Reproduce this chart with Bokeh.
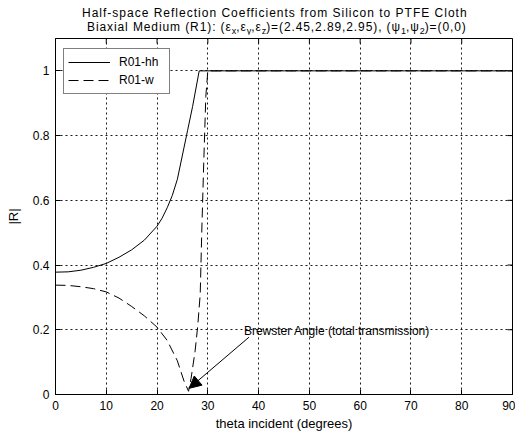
import math
from bokeh.plotting import figure
from bokeh.models import (Range1d, FixedTicker, Arrow, NormalHead, Label, Div, Legend)
from bokeh.layouts import column
from bokeh.embed import file_html
from bokeh.resources import INLINE

# ---- data ----
theta_hh = [0, 2.5, 5, 7.5, 10, 12.5, 15, 17.5, 20, 21, 22, 23, 24, 25, 26, 27, 28.3, 30, 40, 50, 60, 70, 80, 90]
R_hh = [0.378, 0.379, 0.384, 0.393, 0.405, 0.424, 0.447, 0.477, 0.52, 0.545, 0.577, 0.615, 0.665, 0.74, 0.815, 0.89, 1.0,
        1.0, 1.0, 1.0, 1.0, 1.0, 1.0, 1.0]

theta_vv = [0, 2.5, 5, 7.5, 10, 12.5, 15, 17.5, 20, 22, 24, 25.3, 26.2, 26.7, 27.5, 28.0, 28.5, 28.8, 29.2, 29.6, 30,
            40, 50, 60, 70, 80, 90]
R_vv = [0.338, 0.337, 0.333, 0.327, 0.317, 0.298, 0.272, 0.243, 0.208, 0.167, 0.104, 0.042, 0.01, 0.05, 0.135, 0.21,
        0.31, 0.5, 0.72, 0.92, 1.0, 1.0, 1.0, 1.0, 1.0, 1.0, 1.0]

x_ticks = [0, 10, 20, 30, 40, 50, 60, 70, 80, 90]
y_ticks = [0, 0.2, 0.4, 0.6, 0.8, 1.0]
y_tick_labels = ["0", "0.2", "0.4", "0.6", "0.8", "1"]
x_max = 90
y_max = 1.1

FONT = "Liberation Sans"

SUB = '<sub style="font-size:9px;line-height:0;letter-spacing:0;">'
title_html = (
    '<div style="font-family:\'Liberation Sans\',Arial,sans-serif;font-size:12px;line-height:13.5px;'
    'letter-spacing:1px;color:#000;padding-top:7px;">'
    '<div style="margin-left:82px;white-space:nowrap;">Half-space Reflection Coefficients from Silicon to PTFE Cloth</div>'
    '<div style="margin-left:87px;white-space:nowrap;letter-spacing:0.9px;">Biaxial Medium (R1): '
    '(&epsilon;' + SUB + 'x</sub>,&epsilon;' + SUB + 'y</sub>,&epsilon;' + SUB + 'z</sub>)=(2.45,2.89,2.95), '
    '(&psi;' + SUB + '1</sub>,&psi;' + SUB + '2</sub>)=(0,0)</div>'
    '</div>'
)
div = Div(text=title_html, width=515, height=34, margin=0)

p = figure(width=515, height=399, output_backend="svg", toolbar_location=None,
           x_range=Range1d(0, x_max), y_range=Range1d(0, y_max),
           min_border_left=55, min_border_right=3, min_border_top=4, min_border_bottom=39,
           margin=0)
p.background_fill_color = "white"
p.border_fill_color = "white"
p.outline_line_color = "black"
p.outline_line_width = 1

# axes
p.xaxis.ticker = FixedTicker(ticks=x_ticks)
p.yaxis.ticker = FixedTicker(ticks=y_ticks)
p.yaxis.major_label_overrides = {t: l for t, l in zip(y_ticks, y_tick_labels)}
p.xaxis.axis_label = "theta incident (degrees)"
p.yaxis.axis_label = "|R|"
for ax in (p.xaxis[0], p.yaxis[0]):
    ax.major_tick_in = 5
    ax.major_tick_out = 0
    ax.minor_tick_line_color = None
    ax.axis_line_color = "black"
    ax.major_tick_line_color = "black"
    ax.major_label_text_color = "black"
    ax.major_label_text_font = FONT
    ax.major_label_text_font_size = "12px"
    ax.axis_label_text_font = FONT
    ax.axis_label_text_font_size = "13px"
    ax.axis_label_text_font_style = "normal"
    ax.axis_label_text_color = "black"
p.xaxis.major_label_standoff = 6
p.xaxis.axis_label_standoff = 3
p.yaxis.major_label_standoff = 6
p.yaxis.axis_label_standoff = 9

# inward box ticks on the top and right edges
p.scatter(x_ticks, [y_max] * len(x_ticks), marker="dash", angle=math.pi / 2, size=10,
          line_color="black", line_width=1)
p.scatter([x_max] * len(y_ticks), y_ticks, marker="dash", size=10, line_color="black", line_width=1)

# grid
p.grid.grid_line_color = "black"
p.grid.grid_line_dash = "2 3"
p.grid.grid_line_width = 1
p.grid.grid_line_alpha = 0.9

# curves
r_hh = p.line(theta_hh, R_hh, line_color="black", line_width=1)
r_vv = p.line(theta_vv, R_vv, line_color="black", line_width=1, line_dash="10 5")

legend = Legend(items=[("R01-hh", [r_hh]), ("R01-w", [r_vv])], location=(8, 300), margin=0,
                padding=4, spacing=0, glyph_width=42, glyph_height=18, label_height=18,
                label_width=46, label_standoff=9,
                label_text_font=FONT, label_text_font_size="12px", label_text_color="black",
                border_line_color="black", border_line_width=1,
                background_fill_color="white", background_fill_alpha=1)
p.add_layout(legend)

# annotation
arrow = Arrow(end=NormalHead(size=12, fill_color="black", line_color="black"),
              x_start=38.1, y_start=0.177, x_end=26.3, y_end=0.019,
              line_color="black", line_width=1)
p.add_layout(arrow)
p.add_layout(Label(x=37.1, y=0.195, text="Brewster Angle (total transmission)",
                   text_font=FONT, text_font_size="12px", text_baseline="alphabetic",
                   text_color="black"))

layout = column(div, p, spacing=0, margin=0)
open("out.html", "w").write(file_html(layout, INLINE))
